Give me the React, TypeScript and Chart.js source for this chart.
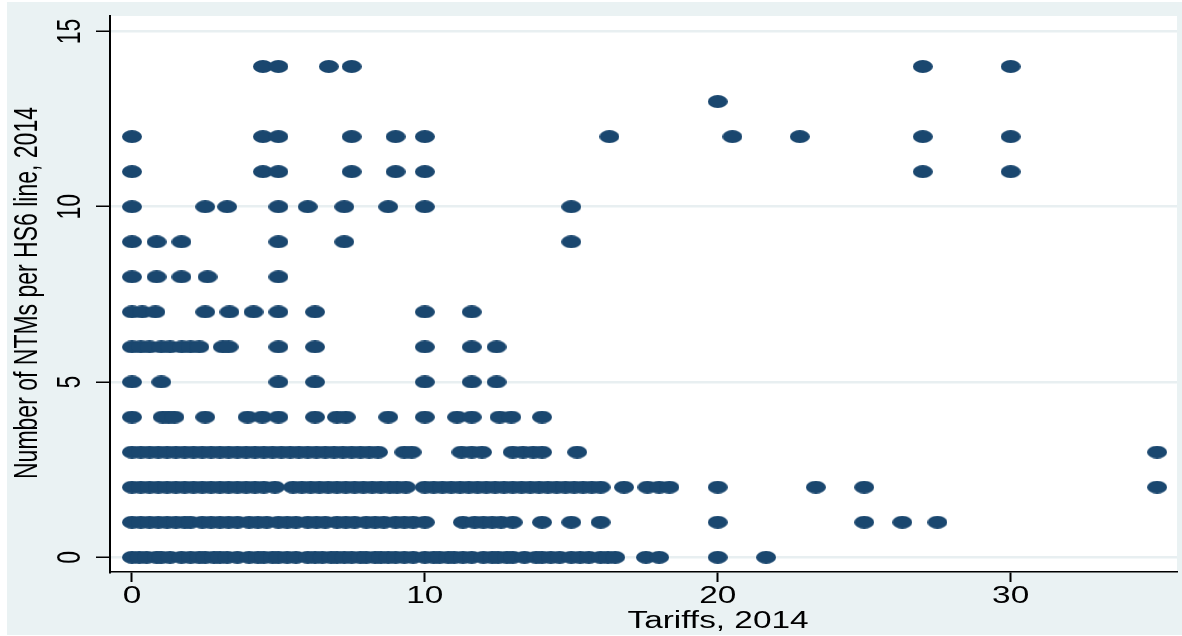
import React, { useEffect, useRef } from "react";
import { Chart, registerables } from "chart.js";

Chart.register(...registerables);

// Tariff values (x) for each count of NTMs per HS6 line (y)
const tariffsAt0 = [0, 0.25, 0.5, 0.84, 1.0, 1.3, 1.69, 2.0, 2.3, 2.5, 2.8, 3.0, 3.25, 3.6, 4.0, 4.3, 4.5, 4.8, 5.0, 5.3, 5.6, 6.0, 6.25, 6.5, 6.8, 7.0, 7.25, 7.5, 7.8, 8.0, 8.3, 8.5, 8.75, 9.0, 9.3, 9.6, 10.0, 10.3, 10.5, 10.8, 11.0, 11.3, 11.6, 12.0, 12.3, 12.5, 12.8, 13.0, 13.4, 13.8, 14.0, 14.3, 14.6, 15.0, 15.3, 15.6, 16.0, 16.25, 16.5, 17.55, 18.0, 20.0, 21.65];
const tariffsAt1 = [0, 0.3, 0.6, 0.9, 1.2, 1.5, 1.8, 2.0, 2.4, 2.7, 3.0, 3.3, 3.6, 4.0, 4.3, 4.6, 5.0, 5.3, 5.6, 6.0, 6.3, 6.6, 7.0, 7.3, 7.6, 8.0, 8.3, 8.6, 9.0, 9.3, 9.6, 10.0, 11.3, 11.7, 12.0, 12.3, 12.6, 13.0, 14.0, 15.0, 16.0, 20.0, 25.0, 26.3, 27.5];
const tariffsAt2 = [0, 0.3, 0.6, 0.9, 1.2, 1.5, 1.8, 2.1, 2.4, 2.7, 3.0, 3.3, 3.6, 3.9, 4.2, 4.5, 4.88, 5.5, 5.8, 6.1, 6.4, 6.7, 7.0, 7.3, 7.6, 7.9, 8.2, 8.5, 8.8, 9.05, 9.35, 10.0, 10.3, 10.6, 10.9, 11.2, 11.5, 11.8, 12.1, 12.4, 12.7, 13.0, 13.3, 13.6, 13.9, 14.2, 14.5, 14.8, 15.1, 15.4, 15.7, 16.0, 16.8, 17.6, 18.0, 18.35, 20.0, 23.35, 25.0, 35.0];
const tariffsAt3 = [0, 0.3, 0.6, 0.9, 1.2, 1.5, 1.8, 2.1, 2.4, 2.7, 3.0, 3.3, 3.6, 3.9, 4.2, 4.5, 4.8, 5.1, 5.4, 5.7, 6.0, 6.3, 6.6, 6.9, 7.2, 7.5, 7.8, 8.1, 8.4, 9.3, 9.55, 11.25, 11.6, 11.95, 13.0, 13.35, 13.7, 14.0, 15.2, 35.0];
const tariffsAt4 = [0, 1.05, 1.25, 1.45, 2.5, 3.95, 4.45, 5.0, 6.25, 7.0, 7.3, 8.75, 10.0, 11.1, 11.6, 12.55, 12.95, 14.0];
const tariffsAt5 = [0, 1.0, 5.0, 6.25, 10.0, 11.6, 12.45];
const tariffsAt6 = [0, 0.3, 0.6, 1.0, 1.3, 1.7, 2.0, 2.3, 3.1, 3.3, 5.0, 6.25, 10.0, 11.6, 12.45];
const tariffsAt7 = [0, 0.35, 0.8, 2.5, 3.33, 4.15, 5.0, 6.25, 10.0, 11.6];
const tariffsAt8 = [0, 0.84, 1.69, 2.58, 5.0];
const tariffsAt9 = [0, 0.84, 1.69, 5.0, 7.25, 15.0];
const tariffsAt10 = [0, 2.5, 3.25, 5.0, 6.0, 7.25, 8.75, 10.0, 15.0];
const tariffsAt11 = [0, 4.47, 5.0, 7.5, 9.0, 10.0, 27.0, 30.0];
const tariffsAt12 = [0, 4.47, 5.0, 7.5, 9.0, 10.0, 16.3, 20.5, 22.8, 27.0, 30.0];
const tariffsAt13 = [20.0];
const tariffsAt14 = [4.47, 5.0, 6.72, 7.5, 27.0, 30.0];

const rows = [tariffsAt0, tariffsAt1, tariffsAt2, tariffsAt3, tariffsAt4, tariffsAt5, tariffsAt6, tariffsAt7, tariffsAt8, tariffsAt9, tariffsAt10, tariffsAt11, tariffsAt12, tariffsAt13, tariffsAt14];

const yTicks = [0, 5, 10, 15];
const xTicks = [0, 10, 20, 30];
const xTitle = "Tariffs, 2014";
const yTitle = "Number of NTMs per HS6 line, 2014";

const NAVY = "#1a476f";
const BG = "#eaf2f3";
const FONT = "23px 'Liberation Sans', Arial, sans-serif";
const SX = 1.45;

function makeMarker(): HTMLCanvasElement {
  const c = document.createElement("canvas");
  c.width = 20;
  c.height = 13;
  const g = c.getContext("2d")!;
  g.fillStyle = NAVY;
  g.beginPath();
  g.ellipse(10, 6.5, 10, 6.5, 0, 0, Math.PI * 2);
  g.fill();
  return c;
}

export default function App() {
  const ref = useRef<HTMLCanvasElement | null>(null);

  useEffect(() => {
    if (!ref.current) return;
    const points: { x: number; y: number }[] = [];
    rows.forEach((row, n) => row.forEach((t) => points.push({ x: t, y: n })));
    const marker = makeMarker();

    const decor = {
      id: "decor",
      beforeDraw(chart: any) {
        const { ctx, chartArea: a } = chart;
        ctx.save();
        ctx.fillStyle = "#ffffff";
        ctx.fillRect(0, 0, chart.width, chart.height);
        ctx.fillStyle = BG;
        ctx.fillRect(7, 2, chart.width - 7, 633);
        ctx.fillStyle = "#ffffff";
        ctx.fillRect(a.left, a.top, a.right - a.left, a.bottom - a.top);
        ctx.restore();
      },
      afterDraw(chart: any) {
        const { ctx, scales } = chart;
        const xs = scales.x;
        const ys = scales.y;
        ctx.save();
        ctx.fillStyle = "#000000";
        ctx.font = FONT;
        ctx.textAlign = "center";
        ctx.textBaseline = "alphabetic";
        yTicks.forEach((v) => {
          const y = ys.getPixelForValue(v);
          ctx.save();
          ctx.translate(80, y);
          ctx.scale(SX, 1);
          ctx.rotate(-Math.PI / 2);
          ctx.fillText(String(v), 0, 0);
          ctx.restore();
        });
        xTicks.forEach((v) => {
          const x = xs.getPixelForValue(v);
          ctx.save();
          ctx.translate(x, 603);
          ctx.scale(SX, 1);
          ctx.fillText(String(v), 0, 0);
          ctx.restore();
        });
        ctx.save();
        ctx.translate(718, 628);
        ctx.scale(SX, 1);
        ctx.fillText(xTitle, 0, 0);
        ctx.restore();
        ctx.save();
        ctx.translate(37, 293);
        ctx.scale(SX, 1);
        ctx.rotate(-Math.PI / 2);
        ctx.fillText(yTitle, 0, 0);
        ctx.restore();
        ctx.restore();
      },
    };

    const chart = new Chart(ref.current, {
      type: "scatter",
      data: {
        datasets: [
          {
            data: points,
            pointStyle: marker as any,
            backgroundColor: NAVY,
            borderColor: NAVY,
          },
        ],
      },
      options: {
        animation: false,
        responsive: false,
        devicePixelRatio: 1,
        layout: { padding: { left: 0, top: 16, right: 4, bottom: 0 } },
        plugins: { legend: { display: false }, tooltip: { enabled: false } },
        scales: {
          x: {
            type: "linear",
            min: -0.75,
            max: 35.68,
            afterBuildTicks: (s: any) => {
              s.ticks = xTicks.map((v) => ({ value: v }));
            },
            afterFit: (s: any) => {
              s.height = 64;
            },
            ticks: { display: false },
            grid: {
              drawOnChartArea: false,
              drawTicks: true,
              tickLength: 10,
              tickColor: "#000000",
              tickWidth: 2,
            },
            border: { display: true, color: "#000000", width: 1.5 },
          },
          y: {
            type: "linear",
            min: -0.42,
            max: 15.44,
            afterBuildTicks: (s: any) => {
              s.ticks = yTicks.map((v) => ({ value: v }));
            },
            afterFit: (s: any) => {
              s.width = 110;
            },
            ticks: { display: false },
            grid: {
              color: "#e8eff1",
              lineWidth: 2.5,
              drawTicks: true,
              tickLength: 14,
              tickColor: "#000000",
              tickWidth: 1.5,
            },
            border: { display: true, color: "#000000", width: 2 },
          },
        },
      },
      plugins: [decor],
    });
    return () => chart.destroy();
  }, []);

  return (
    <div style={{ position: "absolute", left: 0, top: 0, width: 1182, height: 636 }}>
      <canvas ref={ref} width={1182} height={636} style={{ display: "block" }} />
    </div>
  );
}
